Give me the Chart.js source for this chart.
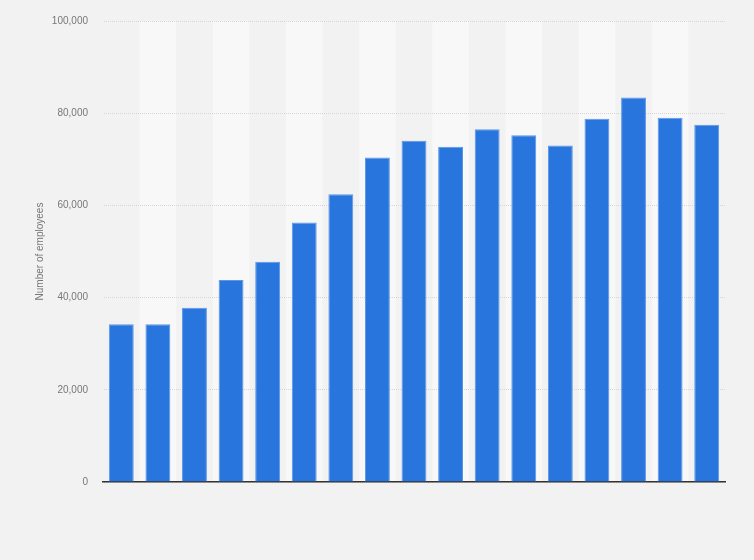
<!DOCTYPE html>
<html>
<head>
<meta charset="utf-8">
<script src="https://cdn.jsdelivr.net/npm/chart.js@4.4.1/dist/chart.umd.min.js"></script>
<style>
  html, body { margin: 0; padding: 0; background: #f2f2f2; }
  #wrap { width: 754px; height: 560px; }
</style>
</head>
<body>
<div id="wrap"><canvas id="myChart" width="754" height="560"></canvas></div>
<script>
// values (no category labels shown on the x axis)
const categories = ['', '', '', '', '', '', '', '', '', '', '', '', '', '', '', '', ''];
const employees = [34200, 34200, 37800, 43800, 47800, 56300, 62400, 70400, 74000,
  72700, 76500, 75200, 73000, 78800, 83400, 79000, 77500];
const yTicks = [0, 20000, 40000, 60000, 80000, 100000];

// alternate lighter column bands behind the bars
const stripes = {
  id: 'stripes',
  beforeDraw(chart) {
    const { ctx, chartArea, scales } = chart;
    const x = scales.x;
    const half = (x.getPixelForValue(1) - x.getPixelForValue(0)) / 2;
    ctx.save();
    ctx.fillStyle = '#f8f8f8';
    for (let i = 1; i < categories.length; i += 2) {
      const c = x.getPixelForValue(i);
      ctx.fillRect(c - half, chartArea.top, half * 2, chartArea.bottom - chartArea.top);
    }
    ctx.restore();
  }
};

const ctx = document.getElementById('myChart');
const myChart = new Chart(ctx, {
  type: 'bar',
  data: {
    labels: categories,
    datasets: [{
      data: employees,
      backgroundColor: '#2876dd',
      borderColor: '#5b97e6',
      borderWidth: 1,
      barPercentage: 0.68,
      categoryPercentage: 1
    }]
  },
  options: {
    responsive: false,
    animation: false,
    layout: { padding: { top: 19, right: 29, bottom: 70, left: 0 } },
    plugins: { legend: { display: false }, tooltip: { enabled: false } },
    scales: {
      x: {
        ticks: { display: false },
        grid: { display: false },
        border: { display: true, color: '#333333', width: 1.5 }
      },
      y: {
        min: 0,
        max: 100000,
        afterBuildTicks(scale) { scale.ticks = yTicks.map(v => ({ value: v })); },
        afterFit(scale) { scale.width = 103; },
        ticks: {
          padding: 15,
          color: '#777777',
          font: { family: 'Arial, Liberation Sans, sans-serif', size: 10 },
          callback: v => v.toLocaleString('en-US')
        },
        grid: { color: '#d6d6d6', drawTicks: false, lineWidth: 1 },
        border: { display: true, color: 'rgba(0,0,0,0)', dash: [1, 1] },
        title: {
          display: true,
          text: 'Number of employees',
          color: '#777777',
          font: { family: 'Arial, Liberation Sans, sans-serif', size: 10 },
          padding: { top: 34, bottom: 0 }
        }
      }
    }
  },
  plugins: [stripes]
});
</script>
</body>
</html>
